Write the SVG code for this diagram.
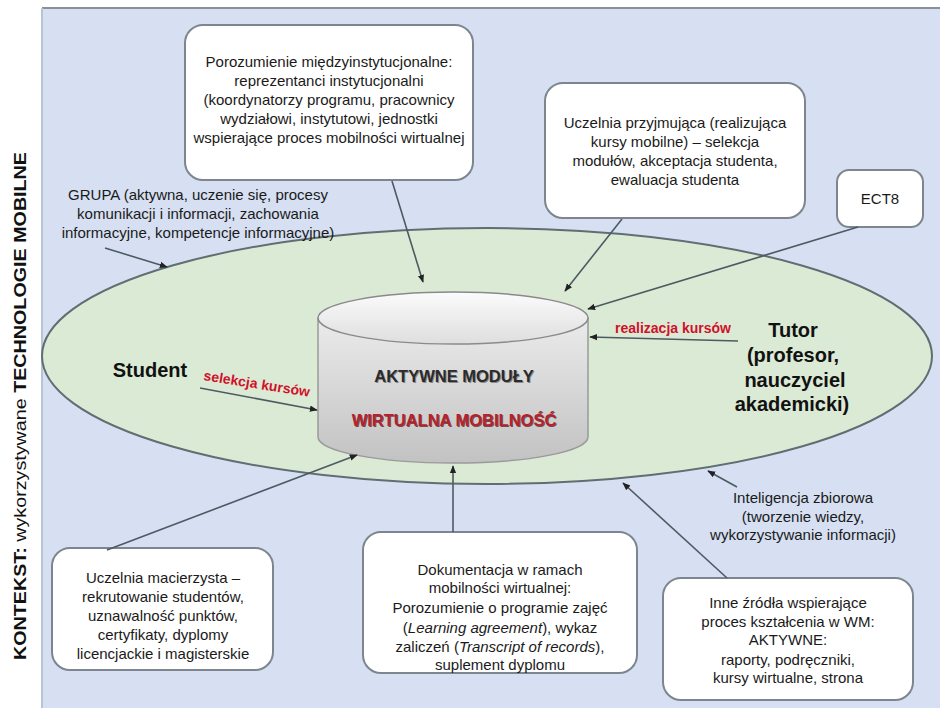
<svg xmlns="http://www.w3.org/2000/svg" width="940" height="709" viewBox="0 0 940 709">
<defs>
<style>
.t{font-family:"Liberation Sans",Arial,sans-serif;font-size:15px;fill:#1a1a1a;text-anchor:middle}
.box{fill:#ffffff;stroke:#7d868e;stroke-width:2}
.con{stroke:#4d5a63;stroke-width:1.6;fill:none;marker-end:url(#ah)}
.b{font-family:"Liberation Sans",Arial,sans-serif;font-weight:bold;fill:#111;text-anchor:middle}
.red{font-family:"Liberation Sans",Arial,sans-serif;font-weight:bold;fill:#d0112b;font-size:14px}
</style>
<marker id="ah" viewBox="0 0 10 10" refX="9" refY="5" markerWidth="8" markerHeight="8" markerUnits="userSpaceOnUse" orient="auto">
<path d="M0,1 L10,5 L0,9 z" fill="#222"/>
</marker>
<linearGradient id="body" x1="0" y1="0" x2="0" y2="1">
<stop offset="0" stop-color="#ebebeb"/>
<stop offset="1" stop-color="#c2c2c2"/>
</linearGradient>
<linearGradient id="top" x1="0" y1="0" x2="0" y2="1">
<stop offset="0" stop-color="#fbfbfb"/>
<stop offset="1" stop-color="#dedede"/>
</linearGradient>
</defs>
<rect x="0" y="0" width="940" height="709" fill="#ffffff"/>
<rect x="42" y="8" width="898" height="700" fill="#d6e0f2"/>
<line x1="42" y1="8" x2="940" y2="8" stroke="#8a9099" stroke-width="2"/>
<line x1="42" y1="8" x2="42" y2="708" stroke="#b8c3d6" stroke-width="2"/>
<text transform="translate(26,406) rotate(-90)" font-family="Liberation Sans, Arial, sans-serif" font-size="17" fill="#111" text-anchor="middle" textLength="508" lengthAdjust="spacingAndGlyphs"><tspan font-weight="bold">KONTEKST:</tspan> wykorzystywane <tspan font-weight="bold">TECHNOLOGIE MOBILNE</tspan></text>
<g id="group-ellipse">
<ellipse cx="487" cy="356" rx="445" ry="128" fill="#dbead5" stroke="#5f6e72" stroke-width="2"/>
</g>
<g id="cylinder">
<path d="M318,318 L318,437 A135,26 0 0 0 588,437 L588,318 z" fill="url(#body)" stroke="#9a9a9a" stroke-width="1.5"/>
<ellipse cx="453" cy="318" rx="135" ry="26" fill="url(#top)" stroke="#8a8a8a" stroke-width="1.5"/>
<text x="455" y="383" class="b" font-size="16.5" style="fill:#8a8a8a">AKTYWNE MODUŁY</text>
<text x="454" y="382" class="b" font-size="16.5" style="fill:#2b2b2b">AKTYWNE MODUŁY</text>
<text x="455" y="427" class="b" font-size="16.5" style="fill:#7a4a4c">WIRTUALNA MOBILNOŚĆ</text>
<text x="454" y="426" class="b" font-size="16.5" style="fill:#b3232c">WIRTUALNA MOBILNOŚĆ</text>
</g>
<g id="student">
<text x="150" y="377" class="b" font-size="20">Student</text>
<text transform="translate(203,380) rotate(9)" class="red">selekcja kursów</text>
</g>
<g id="tutor">
<text class="b" font-size="20"><tspan x="793" y="337">Tutor</tspan><tspan x="793" y="362">(profesor,</tspan><tspan x="795" y="387">nauczyciel</tspan><tspan x="792" y="411">akademicki)</tspan></text>
<text x="673" y="333" class="red" text-anchor="middle">realizacja kursów</text>
</g>
<g id="box-porozumienie">
<rect x="185" y="25" width="288" height="155" rx="18" class="box"/>
<text class="t"><tspan x="329" y="67">Porozumienie międzyinstytucjonalne:</tspan><tspan x="329" y="86">reprezentanci instytucjonalni</tspan><tspan x="329" y="105">(koordynatorzy programu, pracownicy</tspan><tspan x="329" y="124">wydziałowi, instytutowi, jednostki</tspan><tspan x="329" y="143">wspierające proces mobilności wirtualnej</tspan></text>
</g>
<g id="box-przyjmujaca">
<rect x="545" y="83" width="260" height="135" rx="18" class="box"/>
<text class="t"><tspan x="675" y="128">Uczelnia przyjmująca (realizująca</tspan><tspan x="675" y="147">kursy mobilne) – selekcja</tspan><tspan x="675" y="166">modułów, akceptacja studenta,</tspan><tspan x="675" y="185">ewaluacja studenta</tspan></text>
</g>
<g id="box-ect">
<rect x="837" y="170" width="86" height="57" rx="12" class="box"/>
<text x="880" y="204" class="t">ECT8</text>
</g>
<g id="label-grupa">
<text class="t"><tspan x="198" y="200">GRUPA (aktywna, uczenie się, procesy</tspan><tspan x="198" y="219">komunikacji i informacji, zachowania</tspan><tspan x="198" y="238">informacyjne, kompetencje informacyjne)</tspan></text>
</g>
<g id="label-inteligencja">
<text class="t"><tspan x="803" y="503">Inteligencja zbiorowa</tspan><tspan x="803" y="522">(tworzenie wiedzy,</tspan><tspan x="803" y="540">wykorzystywanie informacji)</tspan></text>
</g>
<g id="box-macierzysta">
<rect x="52" y="548" width="221" height="122" rx="18" class="box"/>
<text class="t"><tspan x="163" y="583">Uczelnia macierzysta –</tspan><tspan x="163" y="602">rekrutowanie studentów,</tspan><tspan x="163" y="621">uznawalność punktów,</tspan><tspan x="163" y="640">certyfikaty, dyplomy</tspan><tspan x="163" y="659">licencjackie i magisterskie</tspan></text>
</g>
<g id="box-dokumentacja">
<rect x="363" y="532" width="274" height="141" rx="18" class="box"/>
<text class="t"><tspan x="500" y="575">Dokumentacja w ramach</tspan><tspan x="500" y="593">mobilności wirtualnej:</tspan><tspan x="500" y="613">Porozumienie o programie zajęć</tspan><tspan x="500" y="633">(<tspan font-style="italic">Learning agreement</tspan>), wykaz</tspan><tspan x="500" y="652">zaliczeń (<tspan font-style="italic">Transcript of records</tspan>),</tspan><tspan x="500" y="670">suplement dyplomu</tspan></text>
</g>
<g id="box-inne">
<rect x="663" y="578" width="250" height="122" rx="18" class="box"/>
<text class="t"><tspan x="788" y="608">Inne źródła wspierające</tspan><tspan x="788" y="627">proces kształcenia w WM:</tspan><tspan x="788" y="645">AKTYWNE:</tspan><tspan x="788" y="665">raporty, podręczniki,</tspan><tspan x="788" y="683">kursy wirtualne, strona</tspan></text>
</g>
<g id="connectors">
<line x1="392" y1="181" x2="423" y2="282" class="con"/>
<line x1="622" y1="219" x2="565" y2="291" class="con"/>
<line x1="858" y1="227" x2="588" y2="309" class="con"/>
<line x1="105" y1="248" x2="167" y2="267" class="con"/>
<line x1="107" y1="550" x2="357" y2="455" class="con"/>
<line x1="453" y1="532" x2="453" y2="466" class="con"/>
<line x1="737" y1="487" x2="708" y2="471" class="con"/>
<line x1="727" y1="578" x2="623" y2="483" class="con"/>
<line x1="200" y1="388" x2="317" y2="410" class="con"/>
<line x1="738" y1="341" x2="590" y2="337" class="con"/>
</g>
</svg>
